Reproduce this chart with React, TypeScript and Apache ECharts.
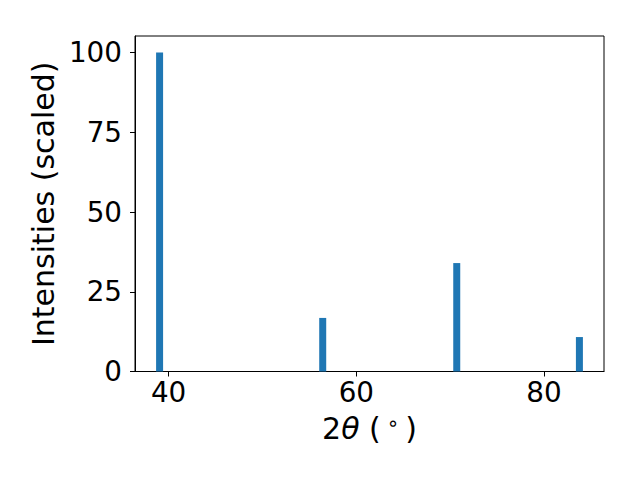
import React, { useEffect, useRef } from "react";
import * as echarts from "echarts";

const peakPositions = [39.04, 56.42, 70.7, 83.77];
const peakIntensities = [100, 16.8, 34.0, 10.8];
const xTicks = [40, 60, 80];
const yTicks = [0, 25, 50, 75, 100];

export default function App() {
  const ref = useRef<HTMLDivElement>(null);
  useEffect(() => {
    if (!ref.current) return;
    const chart = echarts.init(ref.current, undefined, { renderer: "svg" });
    const font = "DejaVu Sans";
    const tickSize = 27.8;
    const nameSize = 30;
    chart.setOption({
      animation: false,
      grid: {
        left: 135,
        right: 36,
        top: 36,
        bottom: 108.5,
        show: true,
        borderColor: "#000",
        borderWidth: 1,
        backgroundColor: "transparent",
      },
      xAxis: {
        type: "value",
        min: 36.42,
        max: 86.39,
        name: "{a|2}{i|θ}{a| (}{s|∘}{a|)}",
        nameLocation: "middle",
        nameGap: 41,
        nameTextStyle: {
          color: "#000",
          fontFamily: font,
          fontSize: nameSize,
          rich: {
            a: { fontFamily: font, fontSize: nameSize, color: "#000" },
            i: { fontFamily: font, fontSize: nameSize, fontStyle: "italic", color: "#000" },
            s: { fontFamily: font, fontSize: 20, color: "#000", verticalAlign: "top", padding: [0, 6, 12, 6] },
          },
        },
        axisLine: { show: true, onZero: false, lineStyle: { color: "#000", width: 1 } },
        axisTick: { show: true, length: 5, lineStyle: { color: "#000" }, customValues: xTicks },
        axisLabel: { color: "#000", fontFamily: font, fontSize: tickSize, margin: 7, customValues: xTicks },
        splitLine: { show: false },
      },
      yAxis: {
        type: "value",
        min: 0,
        max: 105.2,
        name: "Intensities (scaled)",
        nameLocation: "middle",
        nameGap: 77,
        nameTextStyle: { color: "#000", fontFamily: font, fontSize: nameSize },
        axisLine: { show: true, lineStyle: { color: "#000", width: 1 } },
        axisTick: { show: true, length: 5, lineStyle: { color: "#000" }, customValues: yTicks },
        axisLabel: { color: "#000", fontFamily: font, fontSize: tickSize, margin: 13, customValues: yTicks },
        splitLine: { show: false },
      },
      series: [
        {
          type: "bar",
          data: peakPositions.map((x, i) => [x, peakIntensities[i]]),
          barWidth: 7,
          itemStyle: { color: "#1f77b4" },
        },
      ],
    });
    return () => chart.dispose();
  }, []);
  return <div ref={ref} style={{ width: 640, height: 480, margin: -8 }} />;
}
